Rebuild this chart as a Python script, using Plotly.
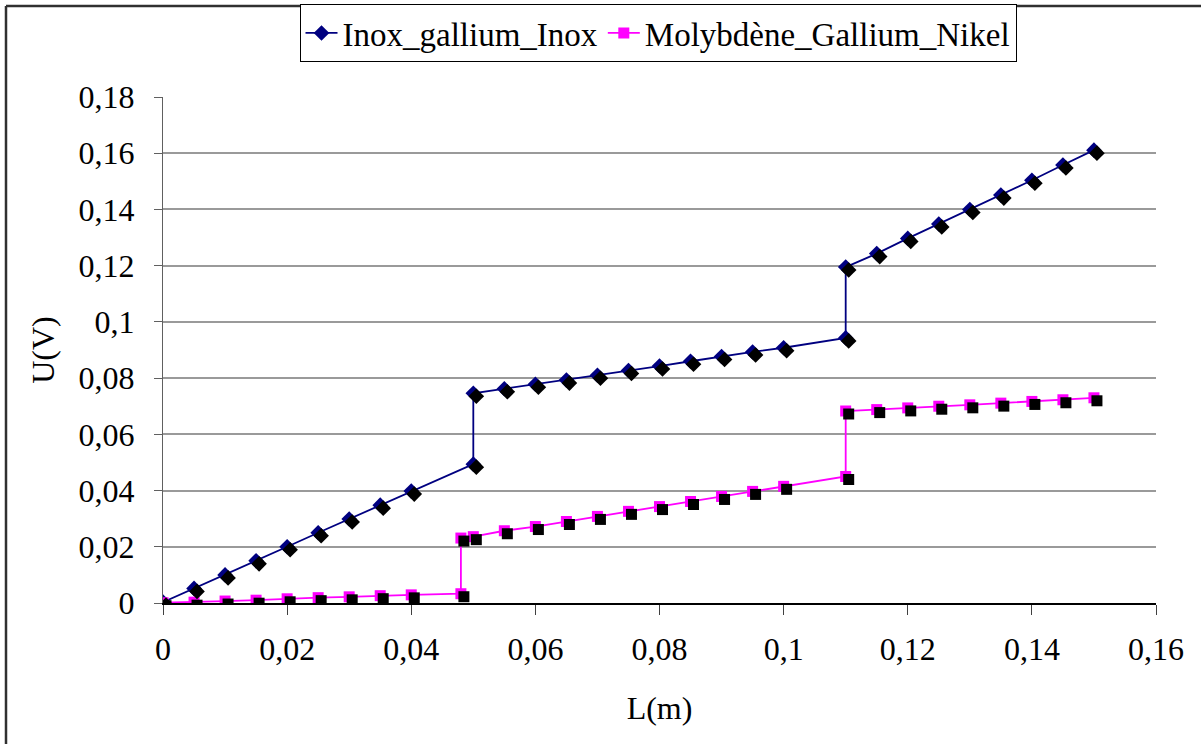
import plotly.graph_objects as go

# ---- data ----
x_inox = [0, 0.005, 0.01, 0.015, 0.02, 0.025, 0.03, 0.035, 0.04, 0.05, 0.05,
          0.055, 0.06, 0.065, 0.07, 0.075, 0.08, 0.085, 0.09, 0.095, 0.1, 0.11, 0.11,
          0.115, 0.12, 0.125, 0.13, 0.135, 0.14, 0.145, 0.15]
u_inox = [0.0003, 0.0052, 0.0100, 0.0150, 0.0200, 0.0250, 0.0299, 0.0348, 0.0398, 0.0494, 0.0746,
          0.0762, 0.0778, 0.0793, 0.0810, 0.0827, 0.0843, 0.0860, 0.0877, 0.0893, 0.0908, 0.0943, 0.1195,
          0.1243, 0.1297, 0.1348, 0.1400, 0.1451, 0.1504, 0.1558, 0.1611]

x_moly = [0, 0.005, 0.01, 0.015, 0.02, 0.025, 0.03, 0.035, 0.04, 0.048, 0.048,
          0.05, 0.055, 0.06, 0.065, 0.07, 0.075, 0.08, 0.085, 0.09, 0.095, 0.1, 0.11, 0.11,
          0.115, 0.12, 0.125, 0.13, 0.135, 0.14, 0.145, 0.15]
u_moly = [0.0001, 0.0003, 0.0007, 0.0010, 0.0015, 0.0019, 0.0022, 0.0026, 0.0029, 0.0033, 0.0231,
          0.0236, 0.0257, 0.0272, 0.0290, 0.0308, 0.0326, 0.0343, 0.0361, 0.0379, 0.0397, 0.0415, 0.0450, 0.0683,
          0.0688, 0.0694, 0.0700, 0.0705, 0.0711, 0.0717, 0.0723, 0.0730]

x_ticks = [0, 0.02, 0.04, 0.06, 0.08, 0.1, 0.12, 0.14, 0.16]
x_ticklabels = ["0", "0,02", "0,04", "0,06", "0,08", "0,1", "0,12", "0,14", "0,16"]
y_ticks = [0, 0.02, 0.04, 0.06, 0.08, 0.1, 0.12, 0.14, 0.16, 0.18]
y_ticklabels = ["0", "0,02", "0,04", "0,06", "0,08", "0,1", "0,12", "0,14", "0,16", "0,18"]

names = ["Inox_gallium_Inox", "Molybdène_Gallium_Nikel"]

# ---- style ----
W, H = 1201, 744
L, R, T, B = 163, 45, 97, 141
pw, ph = W - L - R, H - T - B
XR = [0, 0.16]
YR = [0, 0.18]
# shadow offset of markers (px) converted to axis units
sx = 3 * (XR[1] - XR[0]) / pw
sy = 3 * (YR[1] - YR[0]) / ph
FONT = "Liberation Serif, Times New Roman, serif"
FS = 32
BLUE = "#000080"
PINK = "#FF00FF"

fig = go.Figure()

# shadows (drawn on shifted overlay axes)
fig.add_trace(go.Scatter(x=x_inox, y=u_inox, mode="markers", xaxis="x2", yaxis="y2",
                         marker=dict(symbol="diamond", size=12, color="black"),
                         showlegend=False, hoverinfo="skip"))
fig.add_trace(go.Scatter(x=x_moly, y=u_moly, mode="markers", xaxis="x2", yaxis="y2",
                         marker=dict(symbol="square", size=11, color="black"),
                         showlegend=False, hoverinfo="skip"))

fig.add_trace(go.Scatter(x=x_inox, y=u_inox, mode="lines+markers", name=names[0],
                         line=dict(color=BLUE, width=1.8),
                         marker=dict(symbol="diamond", size=12, color=BLUE)))
fig.add_trace(go.Scatter(x=x_moly, y=u_moly, mode="lines+markers", name=names[1],
                         line=dict(color=PINK, width=1.8),
                         marker=dict(symbol="square", size=11, color=PINK)))

fig.update_layout(
    width=W, height=H,
    margin=dict(l=L, r=R, t=T, b=B, autoexpand=False),
    paper_bgcolor="white", plot_bgcolor="white",
    font=dict(family=FONT, size=FS, color="black"),
    xaxis=dict(range=XR, tickvals=x_ticks, ticktext=x_ticklabels,
               showgrid=False, zeroline=False,
               showline=True, linecolor="black", linewidth=2,
               ticks="outside", ticklen=10, tickcolor="#404040", tickwidth=1,
               ticklabelstandoff=7,
               tickfont=dict(family=FONT, size=FS),
               title=dict(text="L(m)", font=dict(family=FONT, size=FS), standoff=30)),
    yaxis=dict(range=YR, tickvals=y_ticks, ticktext=y_ticklabels,
               showgrid=True, gridcolor="#9a9a9a", gridwidth=1.5, zeroline=False,
               showline=True, linecolor="#606060", linewidth=1,
               ticks="outside", ticklen=8, tickcolor="#606060", tickwidth=1,
               ticklabelstandoff=13,
               tickfont=dict(family=FONT, size=FS),
               title=dict(text="U(V)", font=dict(family=FONT, size=FS), standoff=14)),
    xaxis2=dict(range=[XR[0] - sx, XR[1] - sx], overlaying="x", visible=False),
    yaxis2=dict(range=[YR[0] + sy, YR[1] + sy], overlaying="y", visible=False),
    legend=dict(orientation="h", x=0.4985, y=(H - B - 4) / ph, xanchor="center", yanchor="top",
                bordercolor="black", borderwidth=1, bgcolor="white",
                font=dict(family=FONT, size=33), itemwidth=32,
                tracegroupgap=0),
    showlegend=True,
    shapes=[
        dict(type="line", xref="paper", yref="paper",
             x0=(6 - L) / pw, x1=(W + 5 - L) / pw, y0=(H - B - 6) / ph, y1=(H - B - 6) / ph,
             line=dict(color="#303030", width=2.5)),
        dict(type="line", xref="paper", yref="paper",
             x0=(6 - L) / pw, x1=(6 - L) / pw, y0=(H - B - 6) / ph, y1=-(B + 5) / ph,
             line=dict(color="#303030", width=2.5)),
    ],
)

fig.write_html("out.html", config={"displayModeBar": False},
               post_script="document.body.style.margin='0px';document.body.style.overflow='hidden';")
